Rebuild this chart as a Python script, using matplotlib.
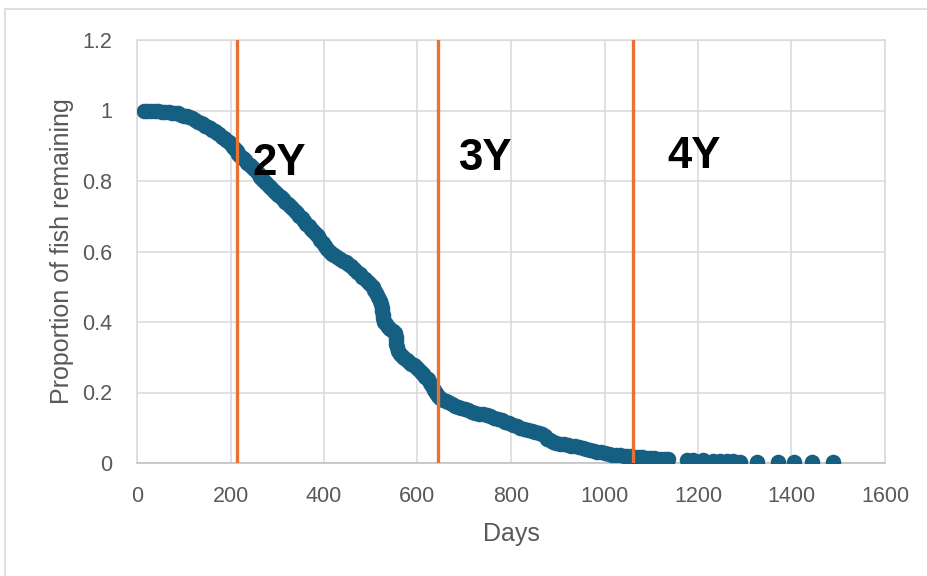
import matplotlib
matplotlib.use("Agg")
import matplotlib.pyplot as plt
from matplotlib.patches import Rectangle

days = [15, 22, 30, 38, 45, 53, 60, 68, 75, 82, 88, 95, 100,
        106, 112, 118, 124, 130, 136, 141, 146, 151, 156, 161, 166, 171, 176, 181, 186, 191, 196, 200, 205, 209, 213, 217, 221,
        226, 231, 236, 241, 246, 251, 256, 260, 264, 268, 272, 277, 282, 287, 292, 297, 302,
        307, 312, 317, 322, 327, 332, 337, 342, 347, 352, 357, 362, 367, 372, 377, 382, 387, 392, 397, 402, 407, 412,
        417, 422, 428, 434, 440, 446, 452, 458, 464, 470, 476, 482, 488, 494, 499, 504, 508, 512, 516, 519, 522,
        524, 525, 526, 527, 529, 532, 537, 542, 547, 551, 553, 554, 555, 556, 558, 562, 567, 572, 577, 582, 587, 592, 597,
        602, 607, 612, 617, 622, 627, 631, 635, 639, 643,
        648, 654, 660, 666, 673, 680, 687, 694, 701, 708, 716, 724, 732, 740, 748, 756, 764, 772, 780, 788, 796, 804, 812,
        820, 828, 836, 844, 852, 860, 866, 872, 878, 884, 890, 897, 905, 913, 921, 929, 937, 945, 953, 961, 969, 977, 985,
        993, 1001, 1009, 1017, 1025, 1033, 1041, 1049, 1057, 1065, 1073, 1081, 1089, 1097, 1105, 1113, 1121, 1130, 1136,
        1176, 1189, 1211, 1232, 1247, 1262, 1275, 1290, 1326, 1371, 1405, 1444, 1489]

proportion = [1.0, 1.0, 1.0, 0.999, 0.998, 0.996, 0.996, 0.995, 0.994, 0.993, 0.992, 0.988, 0.985,
              0.984, 0.981, 0.978, 0.973, 0.968, 0.965, 0.961, 0.957, 0.953, 0.950, 0.946, 0.942, 0.937, 0.932, 0.926, 0.921, 0.915, 0.910, 0.904, 0.897, 0.891, 0.884, 0.878, 0.872,
              0.866, 0.860, 0.852, 0.846, 0.840, 0.833, 0.826, 0.819, 0.812, 0.805, 0.800, 0.793, 0.786, 0.779, 0.773, 0.767, 0.760,
              0.754, 0.748, 0.741, 0.735, 0.728, 0.722, 0.715, 0.709, 0.702, 0.694, 0.686, 0.679, 0.672, 0.665, 0.658, 0.651, 0.643, 0.634, 0.625, 0.616, 0.608, 0.600,
              0.594, 0.589, 0.584, 0.579, 0.574, 0.569, 0.565, 0.558, 0.549, 0.541, 0.535, 0.528, 0.521, 0.514, 0.508, 0.500, 0.492, 0.482, 0.470, 0.460, 0.450,
              0.440, 0.430, 0.420, 0.410, 0.400, 0.393, 0.387, 0.381, 0.375, 0.368, 0.358, 0.348, 0.338, 0.328, 0.318, 0.310, 0.304, 0.298, 0.292, 0.287, 0.282, 0.277, 0.271,
              0.266, 0.259, 0.252, 0.245, 0.237, 0.228, 0.218, 0.208, 0.198, 0.190,
              0.184, 0.180, 0.176, 0.172, 0.168, 0.163, 0.159, 0.156, 0.152, 0.149, 0.146, 0.143, 0.140, 0.138, 0.135, 0.132, 0.128, 0.125, 0.121, 0.117, 0.113, 0.109, 0.105,
              0.100, 0.097, 0.094, 0.092, 0.089, 0.086, 0.082, 0.076, 0.069, 0.064, 0.060, 0.058, 0.055, 0.053, 0.051, 0.049, 0.047, 0.045, 0.043, 0.040, 0.037, 0.034, 0.032,
              0.030, 0.027, 0.025, 0.024, 0.023, 0.022, 0.021, 0.020, 0.019, 0.018, 0.017, 0.016, 0.015, 0.014, 0.013, 0.012, 0.011, 0.010, 0.010,
              0.009, 0.009, 0.008, 0.007, 0.006, 0.006, 0.005, 0.004, 0.004, 0.003, 0.003, 0.002, 0.002]

age_lines = [214, 644, 1061]
age_labels = ["2Y", "3Y", "4Y"]
label_x = [248, 687, 1134]
label_y = [0.85, 0.864, 0.869]

x_ticks = [0, 200, 400, 600, 800, 1000, 1200, 1400, 1600]
y_ticks = [0, 0.2, 0.4, 0.6, 0.8, 1.0, 1.2]
y_tick_labels = ["0", "0.2", "0.4", "0.6", "0.8", "1", "1.2"]

plt.rcParams['font.family'] = ['Liberation Sans', 'DejaVu Sans']

fig = plt.figure(figsize=(9.28, 5.76), dpi=100)
ax = fig.add_axes([137/928, 1 - 463/576, (885-137)/928, (463-40)/576])

ax.scatter(days, proportion, s=125, color="#156082", linewidths=0, zorder=3)
for xv in age_lines:
    ax.plot([xv, xv], [0, 1.2], color="#E97132", linewidth=2.4, zorder=4)
for t, xv, yv in zip(age_labels, label_x, label_y):
    ax.text(xv, yv, t, fontsize=31.5, fontweight="bold", color="black",
            ha="left", va="center", zorder=5)

ax.set_xlim(0, 1600)
ax.set_ylim(0, 1.2)
ax.set_xticks(x_ticks)
ax.set_xticklabels([str(v) for v in x_ticks])
ax.set_yticks(y_ticks)
ax.set_yticklabels(y_tick_labels)
ax.grid(True, color="#D9D9D9", linewidth=1.1, zorder=0)
ax.set_axisbelow(True)
for sp in ax.spines.values():
    sp.set_color("#D9D9D9")
    sp.set_linewidth(1.1)
ax.spines['bottom'].set_color("#BFBFBF")
ax.tick_params(length=0, labelsize=15.5, labelcolor="#595959")
ax.tick_params(axis='x', pad=16.5)
ax.tick_params(axis='y', pad=18)
ax.set_xlabel("Days", fontsize=18, color="#595959", labelpad=11)
ax.set_ylabel("Proportion of fish remaining", fontsize=18, color="#595959", labelpad=6)

fig.patches.append(Rectangle((5/928, -0.05), 1.2, 1 - 9/576 + 0.05, transform=fig.transFigure,
                             fill=False, edgecolor="#D9D9D9", linewidth=1.2))

fig.savefig("out.png", dpi=100)
